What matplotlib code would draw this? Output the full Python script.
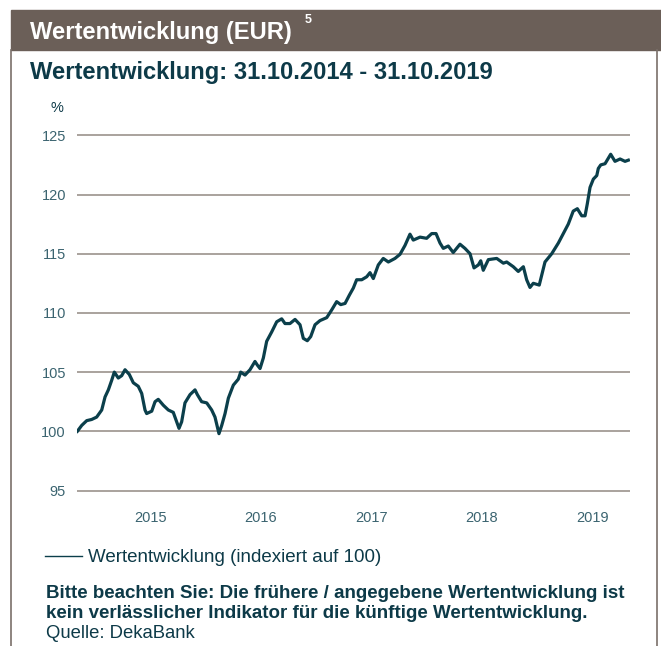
import matplotlib
matplotlib.use("Agg")
import matplotlib.pyplot as plt
from matplotlib.patches import Rectangle
from matplotlib.lines import Line2D

W, H = 661, 646

# decimal years (31.10.2014 = 2014.833) and index values
years = [
    2014.836, 2014.876, 2014.921, 2014.966, 2015.011, 2015.057, 2015.087, 2015.117,
    2015.147, 2015.171, 2015.207, 2015.238, 2015.268, 2015.307, 2015.343, 2015.388,
    2015.419, 2015.449, 2015.464, 2015.510, 2015.540, 2015.569, 2015.615, 2015.660,
    2015.705, 2015.736, 2015.757, 2015.781, 2015.811, 2015.857, 2015.902, 2015.923,
    2015.962, 2016.008, 2016.053, 2016.083, 2016.104, 2016.119, 2016.144, 2016.174,
    2016.204, 2016.249, 2016.294, 2016.316, 2016.355, 2016.400, 2016.445, 2016.466,
    2016.491, 2016.521, 2016.551, 2016.597, 2016.642, 2016.687, 2016.717, 2016.762,
    2016.808, 2016.853, 2016.883, 2016.919, 2016.950, 2016.989, 2017.034, 2017.095,
    2017.140, 2017.185, 2017.222, 2017.261, 2017.300, 2017.336, 2017.366, 2017.412,
    2017.457, 2017.487, 2017.517, 2017.562, 2017.607, 2017.653, 2017.713, 2017.759,
    2017.804, 2017.849, 2017.879, 2017.940, 2018.000, 2018.046, 2018.085, 2018.121,
    2018.151, 2018.196, 2018.241, 2018.302, 2018.347, 2018.393, 2018.429, 2018.468,
    2018.490, 2018.513, 2018.559, 2018.635, 2018.695, 2018.725, 2018.785, 2018.830,
    2018.876, 2018.906, 2018.936, 2018.966, 2019.020, 2019.072, 2019.133, 2019.193,
    2019.238, 2019.283, 2019.328, 2019.365, 2019.405, 2019.435, 2019.455, 2019.480,
    2019.510, 2019.541, 2019.555, 2019.577, 2019.616, 2019.667, 2019.706, 2019.752,
    2019.797, 2019.827,
]
values = [
    100.0, 100.5, 100.9, 101.0, 101.2, 101.8, 102.9, 103.5,
    104.3, 105.0, 104.5, 104.7, 105.2, 104.8, 104.1, 103.8,
    103.2, 101.8, 101.5, 101.7, 102.5, 102.7, 102.2, 101.8,
    101.6, 100.8, 100.25, 100.8, 102.4, 103.1, 103.5, 103.1,
    102.5, 102.4, 101.8, 101.2, 100.4, 99.8, 100.5, 101.5,
    102.8, 103.9, 104.4, 105.0, 104.75, 105.2, 105.9, 105.6,
    105.3, 106.2, 107.6, 108.4, 109.25, 109.5, 109.1, 109.1,
    109.45, 109.0, 107.85, 107.65, 108.0, 109.0, 109.35, 109.6,
    110.25, 110.95, 110.7, 110.8, 111.5, 112.1, 112.8, 112.8,
    113.05, 113.4, 112.9, 114.05, 114.6, 114.3, 114.6, 114.95,
    115.7, 116.65, 116.15, 116.4, 116.3, 116.7, 116.7, 115.9,
    115.45, 115.65, 115.1, 115.8, 115.45, 115.0, 113.8, 114.05,
    114.4, 113.6, 114.5, 114.6, 114.2, 114.3, 113.9, 113.5,
    113.9, 112.8, 112.15, 112.5, 112.35, 114.3, 115.0, 115.9,
    116.7, 117.5, 118.6, 118.8, 118.2, 118.2, 119.2, 120.6,
    121.3, 121.6, 122.2, 122.5, 122.6, 123.4, 122.8, 123.0,
    122.8, 122.9,
]
y_ticks = [95, 100, 105, 110, 115, 120, 125]
x_tick_pos = [2015.5, 2016.5, 2017.5, 2018.5, 2019.5]
x_tick_labels = ["2015", "2016", "2017", "2018", "2019"]

LINE = "#0b3f4b"
TEXT = "#0d3a48"
TICK = "#3b6470"
GRID = "#a39b95"
BAR = "#6b5f58"
BORDER = "#7a706a"

plt.rcParams["font.family"] = ["Liberation Sans", "DejaVu Sans"]


def fx(x):
    return x / W


def fy(y):
    return 1 - y / H


fig = plt.figure(figsize=(W / 100, H / 100), dpi=100)
fig.patch.set_facecolor("white")

# header bar and frame
fig.patches.append(Rectangle((fx(11), fy(50)), fx(661) - fx(11), fy(10) - fy(50),
                             transform=fig.transFigure, color=BAR, zorder=0))
fig.lines.append(Line2D([fx(11), fx(11)], [fy(50), fy(646)], transform=fig.transFigure,
                        color=BORDER, linewidth=1.2))
fig.lines.append(Line2D([fx(657), fx(657)], [fy(50), fy(646)], transform=fig.transFigure,
                        color=BORDER, linewidth=1.2))

fig.text(fx(30), fy(32), "Wertentwicklung (EUR)", color="white", fontsize=17.1,
         fontweight="bold", va="center", ha="left")
fig.text(fx(305), fy(20), "5", color="white", fontsize=9, fontweight="bold", va="center", ha="left")
fig.text(fx(30), fy(72), "Wertentwicklung: 31.10.2014 - 31.10.2019", color=TEXT, fontsize=17.1,
         fontweight="bold", va="center", ha="left")

# chart area: 100 at y=431.3px, 11.84 px per index point
y_lo, y_hi = 94.8, 125.2
ax_bottom = 431.3 + (100 - y_lo) * 11.84
ax_top = 431.3 - (y_hi - 100) * 11.84
ax = fig.add_axes([fx(77), fy(ax_bottom), fx(630) - fx(77), fy(ax_top) - fy(ax_bottom)])
ax.plot(years, values, color=LINE, linewidth=2.3, solid_joinstyle="round", zorder=3)
ax.set_xlim(2014.833, 2019.842)
ax.set_ylim(y_lo, y_hi)
ax.set_yticks(y_ticks)
ax.set_xticks(x_tick_pos)
ax.set_xticklabels(x_tick_labels)
ax.yaxis.grid(True, color=GRID, linewidth=1.3)
ax.set_axisbelow(True)
for side in ax.spines.values():
    side.set_visible(False)
ax.tick_params(axis="both", length=0, colors=TICK, labelsize=10.5)
ax.tick_params(axis="y", pad=8)
ax.tick_params(axis="x", pad=13)
fig.text(fx(57), fy(108), "%", color=TEXT, fontsize=10.5, ha="center", va="center")

# legend and notes
fig.lines.append(Line2D([fx(45), fx(82)], [fy(556), fy(556)], transform=fig.transFigure,
                        color=LINE, linewidth=1.0))
fig.text(fx(88), fy(557), "Wertentwicklung (indexiert auf 100)", color=TEXT, fontsize=13.5,
         ha="left", va="center")
fig.text(fx(46), fy(593), "Bitte beachten Sie: Die frühere / angegebene Wertentwicklung ist",
         color=TEXT, fontsize=13.5, fontweight="bold", ha="left", va="center")
fig.text(fx(46), fy(613), "kein verlässlicher Indikator für die künftige Wertentwicklung.",
         color=TEXT, fontsize=13.5, fontweight="bold", ha="left", va="center")
fig.text(fx(46), fy(634), "Quelle: DekaBank", color=TEXT, fontsize=13.3, ha="left", va="center")

fig.savefig("out.png", dpi=100)
